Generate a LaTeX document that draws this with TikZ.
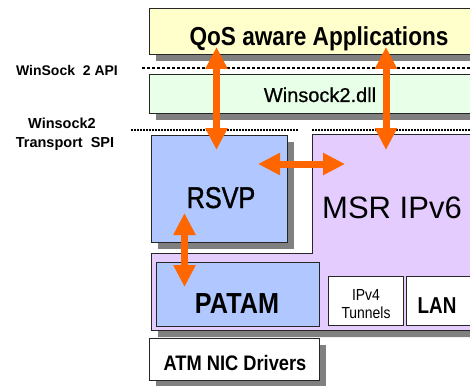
\documentclass[tikz,border=0pt]{standalone}
\usepackage{fontspec}
\setmainfont{Liberation Sans}
\newfontfamily\narrowsans{Liberation Sans}[FakeStretch=0.87]
\newfontfamily\narrowersans{Liberation Sans}[FakeStretch=0.82]
\newfontfamily\heavysans{Liberation Sans}[FakeStretch=0.84,FakeBold=1.2]
\newfontfamily\semisans{Liberation Sans}[FakeBold=0.6]
\usetikzlibrary{arrows.meta,shadows}
\definecolor{appyellow}{HTML}{FFFFCC}
\definecolor{dllgreen}{HTML}{E8FFE8}
\definecolor{rsvpblue}{HTML}{B0C8FF}
\definecolor{msrpurple}{HTML}{E4CCFF}
\definecolor{arrorange}{HTML}{FF6600}
\tikzset{
    BX/.style ={rectangle, draw=black!85, line width=0.8pt, inner sep=0pt, outer sep=0pt, anchor=north west},
    SH/.style ={drop shadow={shadow xshift=7pt, shadow yshift=-7pt, fill=black!50, opacity=1}},
    AR/.style ={draw=arrorange, line width=7pt, {Triangle[width=21pt,length=22pt]}-{Triangle[width=21pt,length=22pt]}},
    DL/.style ={line width=2.5pt, dash pattern=on 3pt off 2pt},
    DS/.style ={line width=1.8pt, dash pattern=on 1.5pt off 1.5pt},
    TX/.style ={anchor=base, inner sep=0pt}}

\begin{document}
\begin{tikzpicture}[x=1pt,y=-1pt]
        \useasboundingbox (0,0) rectangle (470,385);
        \clip (0,0) rectangle (470,385);
        % layers
        \node[BX,SH,fill=appyellow,minimum width=341pt,minimum height=46pt] (apps) at (149,8) {};
        \draw[DL] (142,68) -- (470,68);
        \node[BX,SH,fill=dllgreen,minimum width=341pt,minimum height=39pt] (dll) at (149,74) {};
        \draw[DS] (131,130) -- (298,130);
        \draw[DS] (312,130) -- (470,130);
        \path[SH,fill=msrpurple,draw=black!85,line width=0.8pt]
            (312,134) -- (490,134) -- (490,330) -- (151,330) -- (151,253) -- (312,253) -- cycle;
        \node[BX,SH,fill=rsvpblue,minimum width=136pt,minimum height=107pt] (rsvp) at (151,135) {};
        \node[BX,fill=rsvpblue,minimum width=163pt,minimum height=64pt] (patam) at (156,262) {};
        \node[BX,fill=white,minimum width=75pt,minimum height=49pt] (tunnels) at (328,276) {};
        \node[BX,fill=white,minimum width=66pt,minimum height=49pt] (lan) at (406,276) {};
        \node[BX,SH,fill=white,minimum width=170pt,minimum height=42pt] (atm) at (149,338) {};
        % labels
        \node[TX,font=\narrowsans\bfseries\fontsize{26}{30}\selectfont] (appslbl) at (319,46) {QoS aware Applications};
        \node[TX,font=\semisans\fontsize{20}{24}\selectfont] (dlllbl) at (320,102) {Winsock2.dll};
        \node[TX,font=\heavysans\fontsize{30}{34}\selectfont] (rsvplbl) at (221,208) {RSVP};
        \node[TX,font=\fontsize{31}{35}\selectfont] (msrlbl) at (392,218) {MSR IPv6};
        \node[TX,font=\narrowsans\bfseries\fontsize{29}{33}\selectfont] (patamlbl) at (237,313) {PATAM};
        \node[TX,font=\narrowsans\fontsize{16}{19}\selectfont] (ipvlbl) at (366,300) {IPv4};
        \node[TX,font=\narrowsans\fontsize{16}{19}\selectfont] (tunlbl) at (366,318) {Tunnels};
        \node[TX,font=\narrowersans\bfseries\fontsize{23}{27}\selectfont] (lanlbl) at (437,313) {LAN};
        \node[TX,font=\narrowsans\bfseries\fontsize{21}{25}\selectfont] (atmlbl) at (235,370) {ATM NIC Drivers};
        \node[TX,font=\bfseries\fontsize{14}{17}\selectfont] (apilbl) at (67,76) {WinSock~~2 API};
        \node[TX,font=\bfseries\fontsize{14.5}{17}\selectfont] (spilbl) at (62,128) {Winsock2};
        \node[TX,font=\bfseries\fontsize{14.5}{17}\selectfont] (spilblb) at (65,147) {Transport~~SPI};
        % arrow ends
        \coordinate (appsL) at (216.5,47);
        \coordinate (rsvpT) at (216.5,150);
        \coordinate (appsR) at (386,47);
        \coordinate (msrT) at (386,150);
        \coordinate (rsvpR) at (258,164);
        \coordinate (msrL) at (345,164);
        \coordinate (rsvpB) at (184.5,213);
        \coordinate (patamT) at (184.5,287);
        \draw[AR] (appsL) -- (rsvpT);
        \draw[AR] (appsR) -- (msrT);
        \draw[AR] (rsvpR) -- (msrL);
        \draw[AR] (rsvpB) -- (patamT);
\end{tikzpicture}
\end{document}
